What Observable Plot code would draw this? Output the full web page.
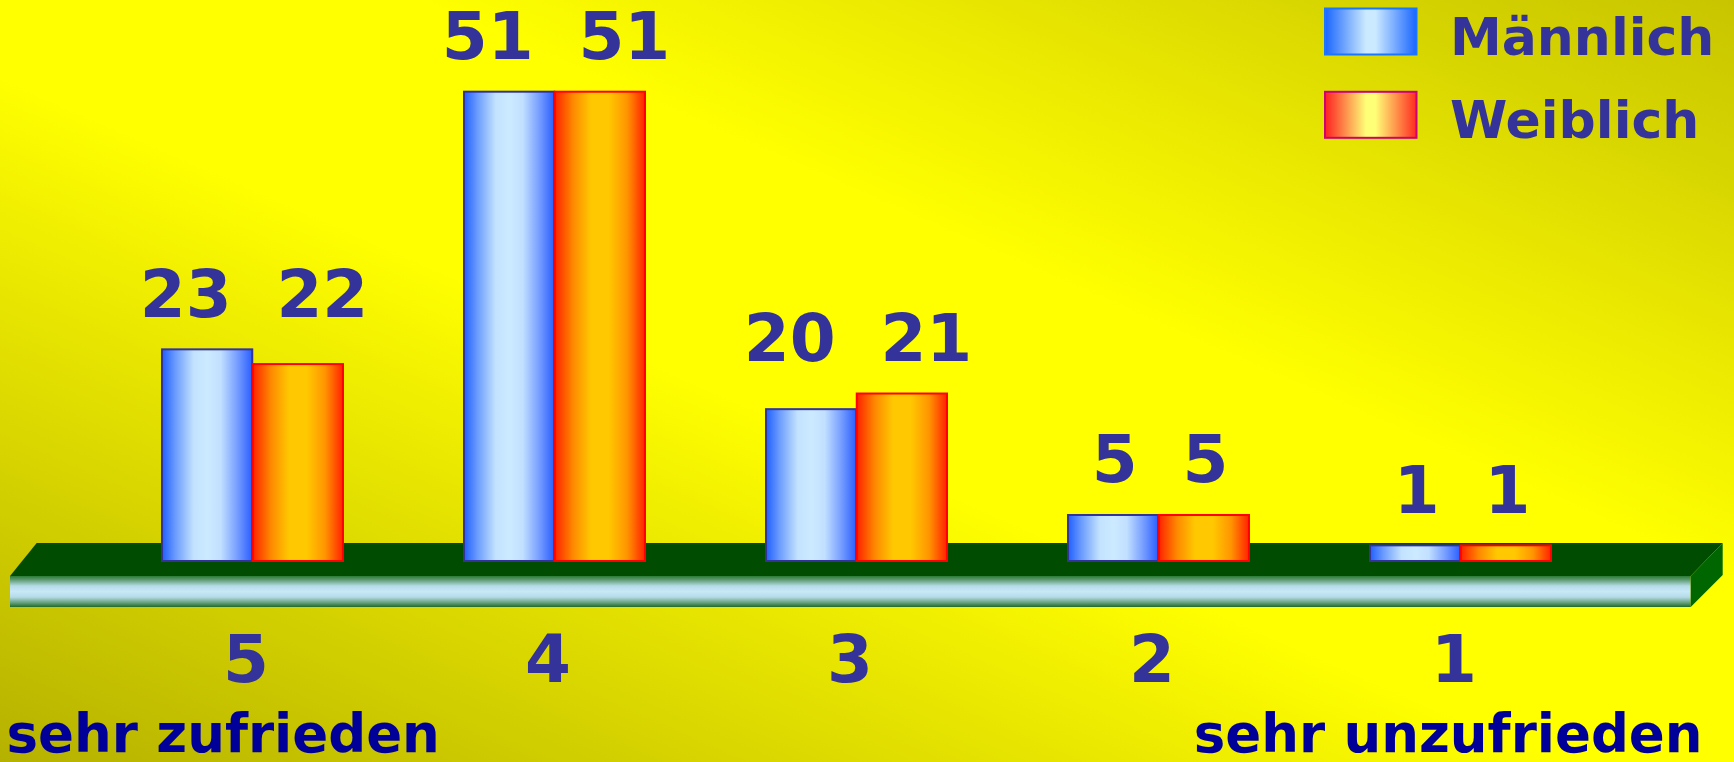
<!DOCTYPE html>
<html><head><meta charset="utf-8">
<script src="https://cdn.jsdelivr.net/npm/d3@7"></script>
<script src="https://cdn.jsdelivr.net/npm/@observablehq/plot@0.6"></script>
<style>
html,body{margin:0;padding:0;overflow:hidden;}
#wrap{width:1734px;height:762px;background:linear-gradient(to top right,#b5b100 0%,#f2f000 37%,#ffff00 45%,#ffff00 62%,#e8e600 78%,#d6d400 89%,#c8c500 100%);}
</style></head><body>
<svg width="0" height="0" style="position:absolute">
<defs>
<linearGradient id="gM" x1="0" x2="1" y1="0" y2="0">
<stop offset="0" stop-color="#1f60ff"/><stop offset="0.15" stop-color="#6b9cff"/><stop offset="0.35" stop-color="#c2e2ff"/><stop offset="0.5" stop-color="#cceaff"/><stop offset="0.65" stop-color="#c2e0ff"/><stop offset="0.85" stop-color="#6f98ff"/><stop offset="1" stop-color="#2a5eff"/>
</linearGradient>
<linearGradient id="gW" x1="0" x2="1" y1="0" y2="0">
<stop offset="0" stop-color="#ff2200"/><stop offset="0.2" stop-color="#ff8800"/><stop offset="0.4" stop-color="#ffc800"/><stop offset="0.6" stop-color="#ffc800"/><stop offset="0.8" stop-color="#ff9500"/><stop offset="1" stop-color="#ff2200"/>
</linearGradient>
<linearGradient id="gLM" x1="0" x2="1" y1="0" y2="0">
<stop offset="0" stop-color="#1a66ff"/><stop offset="0.45" stop-color="#cceaff"/><stop offset="0.55" stop-color="#cceaff"/><stop offset="1" stop-color="#1a66ff"/>
</linearGradient>
<linearGradient id="gLW" x1="0" x2="1" y1="0" y2="0">
<stop offset="0" stop-color="#ff2020"/><stop offset="0.45" stop-color="#ffff77"/><stop offset="0.55" stop-color="#ffff77"/><stop offset="1" stop-color="#ff2a20"/>
</linearGradient>
<linearGradient id="gFloor" x1="0" x2="0" y1="0" y2="1">
<stop offset="0" stop-color="#2a7a35"/><stop offset="0.12" stop-color="#5d9a70"/><stop offset="0.32" stop-color="#b4dce6"/><stop offset="0.5" stop-color="#c8e8f8"/><stop offset="0.68" stop-color="#b4dce6"/><stop offset="0.88" stop-color="#5d9a70"/><stop offset="1" stop-color="#1f6a25"/>
</linearGradient>
</defs></svg>
<div id="wrap"></div>
<script>
// ---- data ----
const categories = ["5", "4", "3", "2", "1"];
const extremes = ["sehr zufrieden", "sehr unzufrieden"];
const series = ["Männlich", "Weiblich"];
// printed values
const labelM = [23, 51, 20, 5, 1];
const labelW = [22, 51, 21, 5, 1];
// bar heights as drawn in the picture (same units as the labels)
const barM = [23, 51, 16.5, 5, 1.7];
const barW = [21.4, 51, 18.2, 5, 1.7];

// ---- layout ----
const W = 1734, H = 762, mL = 100.75, mR = 120.75, mT = 91.7, mB = 201;
const step = (W - mL - mR) / categories.length;
const half = step * 0.6 / 2;
const ink = "#333399";

const male = categories.map((c, i) => ({cat: c, h: barM[i], label: labelM[i], top: Math.max(barM[i], barW[i])}));
const female = categories.map((c, i) => ({cat: c, h: barW[i], label: labelW[i], top: Math.max(barM[i], barW[i])}));

const plot = Plot.plot({
  width: W, height: H,
  marginLeft: mL, marginRight: mR, marginTop: mT, marginBottom: mB,
  style: {background: "none", fontFamily: "DejaVu Sans", fontWeight: "bold", overflow: "visible"},
  x: {type: "band", domain: categories, paddingInner: 0.4, paddingOuter: 0.2, align: 0.5, axis: null},
  y: {domain: [0, 51], axis: null},
  marks: [
    Plot.barY(male, {x: "cat", y: "h", insetRight: half, fill: "url(#gM)", stroke: "#333399", strokeWidth: 2}),
    Plot.barY(female, {x: "cat", y: "h", insetLeft: half, fill: "url(#gW)", stroke: "#ff0000", strokeWidth: 2}),
    Plot.text(male, {x: "cat", y: "top", text: d => String(d.label), textAnchor: "end", lineAnchor: "bottom",
      dx: -half / 2 + 24, dy: -33, fontSize: 66, fontWeight: "bold", fill: ink}),
    Plot.text(female, {x: "cat", y: "top", text: d => String(d.label), textAnchor: "start", lineAnchor: "bottom",
      dx: half / 2 - 22, dy: -33, fontSize: 66, fontWeight: "bold", fill: ink}),
    Plot.text(categories, {x: d => d, text: d => d, frameAnchor: "bottom", lineAnchor: "bottom",
      dy: 120, dx: -7, fontSize: 66, fontWeight: "bold", fill: ink}),
    Plot.text([extremes[0]], {text: d => d, frameAnchor: "bottom-left", textAnchor: "start", lineAnchor: "bottom",
      dx: 6 - mL, dy: 190, fontSize: 53, fontWeight: "bold", fill: "#000099"}),
    Plot.text([extremes[1]], {text: d => d, frameAnchor: "bottom-right", textAnchor: "end", lineAnchor: "bottom",
      dx: 1702 - (W - mR), dy: 190, fontSize: 53, fontWeight: "bold", fill: "#000099"})
  ]
});

// ---- floor (decoration, anchored on the y scale's zero) ----
const svg = d3.select(plot);
const y0 = plot.scale("y").apply(0);
const floor = svg.insert("g", "g");
floor.append("polygon").attr("points", [[36.7, y0 - 18], [1722.7, y0 - 18], [1690.7, y0 + 15], [10, y0 + 15]].join(" ")).attr("fill", "#004c00");
floor.append("rect").attr("x", 10).attr("y", y0 + 15).attr("width", 1680.7).attr("height", 31).attr("fill", "url(#gFloor)");
floor.append("polygon").attr("points", [[1690.7, y0 + 15], [1722.7, y0 - 18], [1722.7, y0 + 14], [1690.7, y0 + 46]].join(" ")).attr("fill", "#006600");

// ---- legend ----
const leg = svg.append("g").attr("font-family", "DejaVu Sans").attr("font-weight", "bold").attr("font-size", 52)
  .attr("fill", ink).attr("text-anchor", "start");
const legFill = ["url(#gLM)", "url(#gLW)"], legStroke = ["#1a75ff", "#cc0077"];
series.forEach((s, i) => {
  const top = 8.5 + i * 83.3;
  leg.append("rect").attr("x", 1325).attr("y", top).attr("width", 91.5).attr("height", 46)
    .attr("fill", legFill[i]).attr("stroke", legStroke[i]).attr("stroke-width", 2);
  leg.append("text").attr("x", 1450).attr("y", top + 46.5).text(s);
});

document.getElementById("wrap").appendChild(plot);
</script>
</body></html>
